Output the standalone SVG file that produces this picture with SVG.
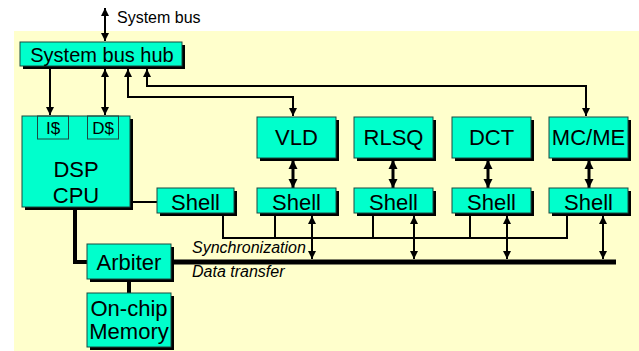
<svg xmlns="http://www.w3.org/2000/svg" width="639" height="351" viewBox="0 0 639 351">
<defs>
<marker id="ah" viewBox="0 0 10 10" refX="10" refY="5" markerWidth="8" markerHeight="8" markerUnits="userSpaceOnUse" orient="auto-start-reverse">
<path d="M0,0 L10,5 L0,10 z" fill="#000"/>
</marker>
<marker id="ahb" viewBox="0 0 10 10" refX="10" refY="5" markerWidth="9" markerHeight="10" markerUnits="userSpaceOnUse" orient="auto-start-reverse">
<path d="M0,0 L10,5 L0,10 z" fill="#000"/>
</marker>
</defs>
<style>
.sh{fill:#000}
.bx{fill:#00FFCC;stroke:#1a4a40;stroke-width:1}
.in{fill:none;stroke:#1a4a40;stroke-width:1}
.t{font-family:"Liberation Sans",Arial,sans-serif;fill:#000;text-anchor:middle}
.l{font-family:"Liberation Sans",Arial,sans-serif;fill:#000;font-size:16px;font-style:italic}
.w{stroke:#000;fill:none;stroke-width:2}
.k{stroke:#000;fill:none;stroke-width:3}
.b{stroke:#000;fill:none;stroke-width:4}
</style>
<rect x="14" y="31" width="625" height="320" fill="#FFFFCC"/>
<text x="117" y="23" font-family="Liberation Sans, Arial, sans-serif" font-size="16">System bus</text>

<g id="connectors">
<path class="w" d="M105,8 V41" marker-start="url(#ah)" marker-end="url(#ah)"/>
<path class="w" d="M50,69 V115" marker-end="url(#ah)"/>
<path class="w" d="M105,69 V115" marker-start="url(#ah)" marker-end="url(#ah)"/>
<path class="w" d="M128,69 V97 H293 V116" marker-start="url(#ah)" marker-end="url(#ah)"/>
<path class="w" d="M147,69 V86 H586 V116" marker-start="url(#ah)" marker-end="url(#ah)"/>
<path class="k" d="M293,160 V188" marker-start="url(#ahb)" marker-end="url(#ahb)"/>
<path class="k" d="M393,160 V188" marker-start="url(#ahb)" marker-end="url(#ahb)"/>
<path class="k" d="M488,160 V188" marker-start="url(#ahb)" marker-end="url(#ahb)"/>
<path class="k" d="M589,160 V188" marker-start="url(#ahb)" marker-end="url(#ahb)"/>
<path class="w" d="M130,202 H157"/>
<path class="w" d="M223,215 V238 H567 V216"/>
<path class="w" d="M275,216 V238"/>
<path class="w" d="M373,216 V238"/>
<path class="w" d="M470,216 V238"/>
<path class="w" d="M312,216 V259" marker-start="url(#ah)" marker-end="url(#ah)"/>
<path class="w" d="M414,216 V259" marker-start="url(#ah)" marker-end="url(#ah)"/>
<path class="w" d="M507,216 V259" marker-start="url(#ah)" marker-end="url(#ah)"/>
<path class="w" d="M603,216 V259" marker-start="url(#ah)" marker-end="url(#ah)"/>
<path stroke="#000" stroke-width="5" fill="none" d="M172,262 H616"/>
<path class="b" d="M75,208 V262 H87"/>
<path class="b" d="M129,280 V293"/>
</g>

<g id="hub">
<rect class="sh" x="23" y="45" width="162" height="24"/>
<rect class="bx" x="20" y="42" width="162" height="24"/>
<text class="t" x="102" y="62" font-size="20">System bus hub</text>
</g>
<g id="cpu">
<rect class="sh" x="25" y="119" width="108" height="91"/>
<rect class="bx" x="22" y="116" width="108" height="91"/>
<rect class="in" x="37.5" y="116" width="31" height="23"/>
<rect class="in" x="87.5" y="116" width="31" height="23"/>
<text class="t" x="53" y="134" font-size="17">I$</text>
<text class="t" x="103" y="134" font-size="17">D$</text>
<text class="t" x="76" y="177" font-size="22">DSP</text>
<text class="t" x="76" y="203" font-size="22">CPU</text>
</g>
<g id="shell0">
<rect class="sh" x="160" y="191" width="77" height="25"/>
<rect class="bx" x="157" y="188" width="77" height="25"/>
<text class="t" x="195.5" y="210" font-size="22">Shell</text>
</g>
<g id="vld">
<rect class="sh" x="260" y="120" width="79" height="41"/>
<rect class="bx" x="257" y="117" width="79" height="41"/>
<text class="t" x="296.5" y="145" font-size="22">VLD</text>
</g>
<g id="rlsq">
<rect class="sh" x="357" y="120" width="79" height="41"/>
<rect class="bx" x="354" y="117" width="79" height="41"/>
<text class="t" x="393.5" y="145" font-size="22">RLSQ</text>
</g>
<g id="dct">
<rect class="sh" x="455" y="120" width="79" height="41"/>
<rect class="bx" x="452" y="117" width="79" height="41"/>
<text class="t" x="491.5" y="145" font-size="22">DCT</text>
</g>
<g id="mcme">
<rect class="sh" x="552" y="120" width="79" height="41"/>
<rect class="bx" x="549" y="117" width="79" height="41"/>
<text class="t" x="588.5" y="145" font-size="22">MC/ME</text>
</g>
<g id="shell1">
<rect class="sh" x="260" y="191" width="79" height="25"/>
<rect class="bx" x="257" y="188" width="79" height="25"/>
<text class="t" x="296.5" y="210" font-size="22">Shell</text>
</g>
<g id="shell2">
<rect class="sh" x="357" y="191" width="79" height="25"/>
<rect class="bx" x="354" y="188" width="79" height="25"/>
<text class="t" x="393.5" y="210" font-size="22">Shell</text>
</g>
<g id="shell3">
<rect class="sh" x="455" y="191" width="79" height="25"/>
<rect class="bx" x="452" y="188" width="79" height="25"/>
<text class="t" x="491.5" y="210" font-size="22">Shell</text>
</g>
<g id="shell4">
<rect class="sh" x="552" y="191" width="79" height="25"/>
<rect class="bx" x="549" y="188" width="79" height="25"/>
<text class="t" x="588.5" y="210" font-size="22">Shell</text>
</g>
<g id="arbiter">
<rect class="sh" x="90" y="247" width="84" height="35"/>
<rect class="bx" x="87" y="244" width="84" height="35"/>
<text class="t" x="129" y="270" font-size="22">Arbiter</text>
</g>
<g id="memory">
<rect class="sh" x="90" y="296" width="84" height="54"/>
<rect class="bx" x="87" y="293" width="84" height="54"/>
<text class="t" x="129" y="316" font-size="22">On-chip</text>
<text class="t" x="129" y="339" font-size="22">Memory</text>
</g>
<text class="l" x="192" y="253">Synchronization</text>
<text class="l" x="192" y="277">Data transfer</text>
</svg>
